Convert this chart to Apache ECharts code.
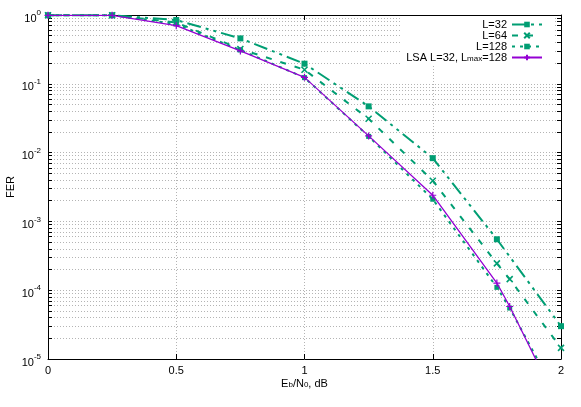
<!DOCTYPE html>
<html>
<head>
<meta charset="utf-8">
<script src="https://cdn.jsdelivr.net/npm/echarts@6/dist/echarts.min.js"></script>
<style>
  html, body { margin: 0; padding: 0; background: #ffffff; }
  #chart { width: 581px; height: 407px; }
</style>
</head>
<body>
<div id="chart"></div>
<script>
// Eb/N0 points (dB)
const xL32 = [0, 0.25, 0.5, 0.75, 1, 1.25, 1.5, 1.75, 2];
const xOther = [0, 0.25, 0.5, 0.75, 1, 1.25, 1.5, 1.75, 1.8, 2];

// FER values
const ferL32 = [0.99, 0.99, 0.845, 0.457, 0.196, 0.047, 0.0083, 5.5e-4, 3.0e-5];
const ferL64 = [0.99, 0.99, 0.78, 0.32, 0.16, 0.031, 0.0039, 2.45e-4, 1.45e-4, 1.45e-5];
const ferL128 = [0.99, 0.99, 0.74, 0.31, 0.123, 0.0172, 0.0021, 1.1e-4, 5.5e-5, 2.3e-6];
const ferLSA = [0.99, 0.99, 0.70, 0.30, 0.124, 0.0175, 0.0024, 1.27e-4, 5.8e-5, 1.8e-6];

// axis ticks
const yMajor = [1e-5, 1e-4, 1e-3, 1e-2, 1e-1, 1];
const yAll = [];
for (let e = -5; e < 0; e++) {
  for (let m = 1; m <= 9; m++) {
    yAll.push(Number((m * Math.pow(10, e)).toPrecision(3)));
  }
}
yAll.push(1);

const green = '#009e73';
const purple = '#9400d3';
const font = 'Liberation Sans';

function pairs(xs, ys) {
  return xs.map((x, i) => [x, ys[i]]);
}

const supRich = {
  b: { fontSize: 11, fontFamily: font, color: '#000', lineHeight: 12, padding: [4, 0, 0, 0], verticalAlign: 'top' },
  s: { fontSize: 8, fontFamily: font, color: '#000', lineHeight: 9, verticalAlign: 'top' }
};
const subRich = {
  b: { fontSize: 11, fontFamily: font, color: '#000', lineHeight: 11, verticalAlign: 'top' },
  s: { fontSize: 8, fontFamily: font, color: '#000', lineHeight: 2, verticalAlign: 'bottom' }
};

const gridLine = { show: true, lineStyle: { color: '#b4b4b4', width: 1, type: [1, 2] } };
const frameLine = { show: true, onZero: false, lineStyle: { color: '#000', width: 1 } };

const crossPath = 'path://M0,0L10,10M10,0L0,10';
const plusPath = 'path://M5,0L5,10M0,5L10,5';

let option = {
  animation: false,
  backgroundColor: '#ffffff',
  textStyle: { fontFamily: font },
  grid: { left: 48, right: 20, top: 15, bottom: 48, containLabel: false, outerBoundsMode: 'none' },
  legend: {
    orient: 'vertical',
    right: 26,
    top: 16,
    align: 'right',
    padding: [3, 12, 3, 6],
    itemGap: 0,
    itemWidth: 30,
    itemHeight: 7,
    backgroundColor: '#ffffff',
    textStyle: { fontFamily: font, fontSize: 11, color: '#000', rich: subRich },
    formatter: function (name) {
      if (name === 'LSA') return '{b|LSA L=32, L}{s|max}{b|=128}';
      return '{b|' + name + '}';
    },
    data: ['L=32', 'L=64', 'L=128', 'LSA']
  },
  xAxis: [
    {
      type: 'value',
      min: 0,
      max: 2,
      interval: 0.5,
      position: 'bottom',
      axisLine: frameLine,
      axisTick: { show: true, inside: true, length: 5, lineStyle: { color: '#000' } },
      axisLabel: {
        margin: 6,
        fontSize: 11,
        fontFamily: font,
        color: '#000',
        formatter: function (v) { return String(v); }
      },
      splitLine: gridLine,
      name: '{b|E}{s|b}{b|/N}{s|0}{b|, dB}',
      nameLocation: 'middle',
      nameGap: 19,
      nameMoveOverlap: false,
      nameTextStyle: { rich: subRich }
    },
    {
      type: 'value',
      min: 0,
      max: 2,
      interval: 0.5,
      position: 'top',
      axisLine: frameLine,
      axisTick: { show: true, inside: true, length: 5, lineStyle: { color: '#000' } },
      axisLabel: { show: false },
      splitLine: { show: false }
    }
  ],
  yAxis: [
    {
      type: 'log',
      logBase: 10,
      min: 1e-5,
      max: 1,
      position: 'left',
      axisLine: frameLine,
      axisTick: { show: true, inside: true, length: 4, customValues: yAll, lineStyle: { color: '#000' } },
      axisLabel: {
        margin: 7,
        customValues: yMajor,
        formatter: function (v) {
          const e = Math.round(Math.log10(v));
          return '{b|10}{s|' + e + '}';
        },
        rich: supRich
      },
      splitLine: gridLine,
      name: 'FER',
      nameLocation: 'middle',
      nameRotate: 90,
      nameGap: 32,
      nameMoveOverlap: false,
      nameTextStyle: { fontSize: 11, fontFamily: font, color: '#000' }
    },
    {
      type: 'log',
      logBase: 10,
      min: 1e-5,
      max: 1,
      position: 'right',
      axisLine: frameLine,
      axisTick: { show: true, inside: true, length: 4, customValues: yAll, lineStyle: { color: '#000' } },
      axisLabel: { show: false },
      splitLine: { show: false }
    }
  ],
  series: [
    {
      name: 'L=32',
      type: 'line',
      data: pairs(xL32, ferL32),
      symbol: 'rect',
      symbolSize: 6,
      itemStyle: { color: green },
      lineStyle: { color: green, width: 2, type: [14, 5, 3, 5, 3, 5] },
      clip: true,
      z: 3
    },
    {
      name: 'L=64',
      type: 'line',
      data: pairs(xOther, ferL64),
      symbol: crossPath,
      symbolSize: 6,
      itemStyle: { color: green, borderColor: green, borderWidth: 1.6 },
      lineStyle: { color: green, width: 2, type: [6, 9] },
      clip: true,
      z: 3
    },
    {
      name: 'L=128',
      type: 'line',
      data: pairs(xOther, ferL128),
      symbol: 'rect',
      symbolSize: 5,
      itemStyle: { color: green },
      lineStyle: { color: green, width: 2, type: [3, 5] },
      clip: true,
      z: 3
    },
    {
      name: 'LSA',
      type: 'line',
      data: pairs(xOther, ferLSA),
      symbol: plusPath,
      symbolSize: 7,
      itemStyle: { color: purple, borderColor: purple, borderWidth: 1.2 },
      lineStyle: { color: purple, width: 1.3 },
      clip: true,
      z: 4
    }
  ]
};

let myChart = echarts.init(document.getElementById('chart'));
myChart.setOption(option, true);
</script>
</body>
</html>
